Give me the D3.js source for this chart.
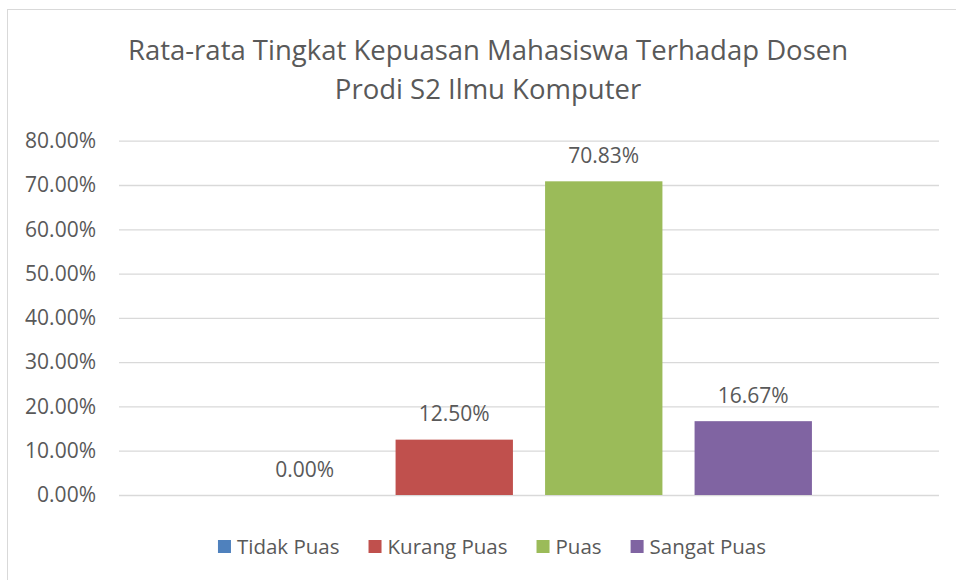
<!DOCTYPE html>
<html>
<head>
<meta charset="utf-8">
<script src="https://cdn.jsdelivr.net/npm/d3@7"></script>
<style>
  body { margin: 0; background: #fff; }
  text { font-family: "Open Sans", sans-serif; fill: #595959; }
</style>
</head>
<body>
<svg width="956" height="580"></svg>
<script>
// Data
const titleLines = ["Rata-rata Tingkat Kepuasan Mahasiswa Terhadap Dosen", "Prodi S2 Ilmu Komputer"];
const series = ["Tidak Puas", "Kurang Puas", "Puas", "Sangat Puas"];
const values = [0.0, 0.125, 0.7083, 0.1667];
const colors = ["#4F81BD", "#C0504D", "#9BBB59", "#8064A2"];
const yTicks = [0, 0.1, 0.2, 0.3, 0.4, 0.5, 0.6, 0.7, 0.8];

let svg = d3.select("svg"),
    width = +svg.attr("width"),
    height = +svg.attr("height");

// chart area border (runs off right / bottom edge like the original)
svg.append("rect")
    .attr("x", 7.5).attr("y", 9.5)
    .attr("width", 980).attr("height", 600)
    .attr("fill", "#fff")
    .attr("stroke", "#D9D9D9")
    .attr("stroke-width", 1);

const chartCenter = 488;

// --------------- //
// TITLE //
// --------------- //
svg.append("g").selectAll("text")
    .data(titleLines)
    .enter()
    .append("text")
    .attr("x", chartCenter)
    .attr("y", (d, i) => 60 + i * 38.5)
    .attr("text-anchor", "middle")
    .style("font-size", "27.5px")
    .text(d => d);

// --------------- //
// SCALES //
// --------------- //
let x = d3.scaleBand()
    .domain(series)
    .range([119, 939])
    .paddingInner(0.215)
    .paddingOuter(0.85);

let y = d3.scaleLinear()
    .domain([0, 0.8])
    .range([495, 140.7]);

// gridlines + y labels
let yAxis = d3.axisLeft(y)
    .tickValues(yTicks)
    .tickSize(-(939 - 119))
    .tickPadding(23)
    .tickFormat(d3.format(".2%"));

let gy = svg.append("g")
    .attr("transform", "translate(119,0)")
    .call(yAxis);
gy.select(".domain").remove();
gy.selectAll(".tick line").attr("stroke", "#D9D9D9").attr("stroke-width", 1.3);
gy.selectAll(".tick text")
    .attr("fill", "#595959")
    .style("font-size", "21px")
    .style("font-family", "'Open Sans', sans-serif");

// --------------- //
// BARS //
// --------------- //
svg.append("g")
    .selectAll("rect")
    .data(series)
    .enter()
    .append("rect")
    .attr("x", d => x(d))
    .attr("width", x.bandwidth())
    .attr("y", (d, i) => y(values[i]))
    .attr("height", (d, i) => y(0) - y(values[i]))
    .attr("fill", (d, i) => colors[i]);

// data labels
svg.append("g")
    .selectAll("text")
    .data(series)
    .enter()
    .append("text")
    .attr("x", d => x(d) + x.bandwidth() / 2)
    .attr("y", (d, i) => y(values[i]) - 18.5)
    .attr("text-anchor", "middle")
    .style("font-size", "21px")
    .text((d, i) => d3.format(".2%")(values[i]));

// --------------- //
// LEGEND //
// --------------- //
let legend = svg.append("g");
let items = legend.selectAll("g")
    .data(series)
    .enter()
    .append("g");

items.append("rect")
    .attr("width", 13).attr("height", 13)
    .attr("y", 540)
    .attr("fill", (d, i) => colors[i]);

items.append("text")
    .attr("x", 19)
    .attr("y", 554)
    .style("font-size", "20.5px")
    .text(d => d);

// lay items out side by side, then center on chart area
let offset = 0;
items.each(function () {
    let g = d3.select(this);
    g.attr("transform", `translate(${offset},0)`);
    offset += this.getBBox().width + 29;
});
let legendW = offset - 29;
legend.attr("transform", `translate(${492 - legendW / 2},0)`);
</script>
</body>
</html>
